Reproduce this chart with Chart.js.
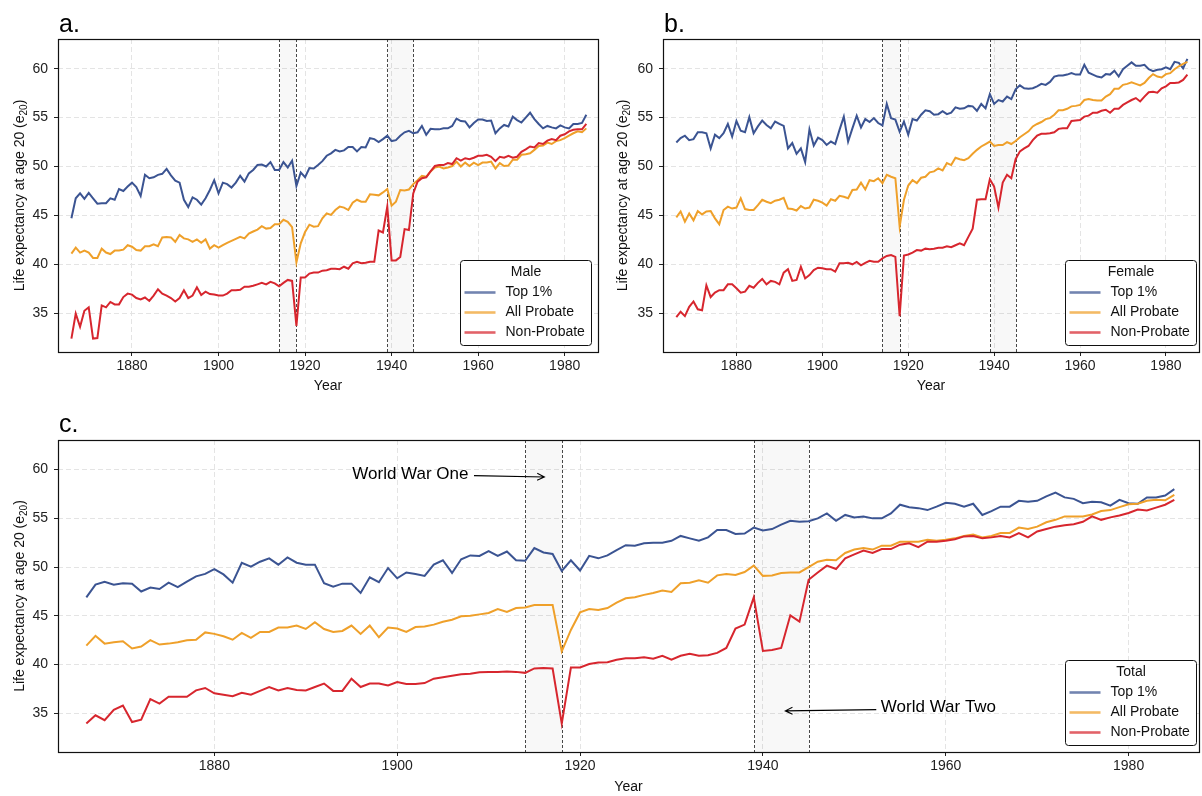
<!DOCTYPE html>
<html>
<head>
<meta charset="utf-8">
<script src="https://cdn.jsdelivr.net/npm/chart.js@4.4.1/dist/chart.umd.min.js"></script>
<style>
  html, body { margin: 0; padding: 0; background: #fff; width: 1202px; height: 796px; overflow: hidden; }
  .panel { position: absolute; }
</style>
</head>
<body>
<div class="panel" style="left:0;top:0;width:600px;height:400px"><canvas id="male" width="600" height="400"></canvas></div>
<div class="panel" style="left:600px;top:0;width:602px;height:400px"><canvas id="female" width="602" height="400"></canvas></div>
<div class="panel" style="left:0;top:400px;width:1202px;height:396px"><canvas id="total" width="1202" height="396"></canvas></div>
<script>
// years 1866..1985
const years = [];
for (let y = 1866; y <= 1985; y++) years.push(y);

const xTicks = [1880, 1900, 1920, 1940, 1960, 1980];
const yTicks = [35, 40, 45, 50, 55, 60];
const seriesNames = ['Top 1%', 'All Probate', 'Non-Probate'];
const seriesColors = ['#3b5492', '#efa02a', '#d7262e'];
const wars = [[1914, 1918], [1939, 1945]];

// a. Male
const maleTop = [
  44.7, 46.75, 47.25, 46.7, 47.3, 46.75, 46.2, 46.25, 46.25, 46.75,
  46.6, 47.7, 47.5, 47.95, 48.35, 47.9, 47.0, 49.15, 48.8, 48.9,
  49.15, 49.25, 49.75, 49.1, 48.55, 48.35, 46.6, 45.85, 46.85, 46.6,
  46.1, 46.75, 47.6, 48.6, 47.25, 48.35, 48.2, 47.85, 48.35, 49.05,
  48.45, 49.3, 49.65, 50.15, 50.2, 50.0, 50.45, 49.65, 49.65, 50.45,
  49.9, 50.6, 48.0, 49.4, 48.9, 49.85, 49.8, 50.15, 50.55, 51.1,
  51.35, 51.7, 51.55, 51.65, 52.0, 52.0, 51.55, 52.0, 51.95, 52.9,
  52.8, 52.5, 52.8, 53.15, 52.6, 52.7, 53.15, 53.5, 53.65, 53.4,
  53.5, 54.15, 53.25, 53.85, 53.8, 53.8, 53.9, 53.9, 54.15, 54.9,
  54.65, 54.6, 54.0, 54.45, 54.8, 54.8, 54.65, 54.7, 53.4, 53.9,
  54.25, 54.1, 55.1, 54.75, 54.5, 55.0, 55.5, 54.85, 54.35, 53.9,
  54.15, 54.0, 53.9, 54.2, 54.0, 53.9, 54.35, 54.35, 54.45, 55.3
];
const maleAll = [
  41.1, 41.7, 41.2, 41.4, 41.2, 40.65, 40.65, 41.6, 41.2, 41.05,
  41.4, 41.4, 41.5, 41.95, 41.8, 41.45, 41.4, 41.85, 41.85, 42.05,
  41.85, 42.75, 42.8, 42.75, 42.3, 43.0, 42.65, 42.55, 42.3, 42.55,
  42.2, 42.55, 41.6, 41.95, 41.7, 41.95, 42.2, 42.4, 42.6, 42.8,
  42.65, 43.15, 43.35, 43.55, 43.9, 43.65, 43.7, 44.1, 44.1, 44.55,
  44.35, 43.8, 40.2, 42.15, 43.3, 44.05, 43.85, 43.9, 44.7, 45.2,
  45.05, 45.55, 45.9, 45.8, 45.55, 46.3, 46.6, 46.4, 46.4, 47.15,
  47.1, 47.05, 47.35, 47.7, 46.0, 46.4, 47.6, 47.55, 47.65, 48.2,
  48.6, 49.05, 48.95, 49.5, 49.9, 50.0, 49.8, 49.9, 50.05, 50.5,
  50.0, 50.4, 50.05, 50.4, 50.15, 50.4, 50.4, 50.5, 49.8, 50.35,
  50.05, 50.1, 50.7, 50.7, 51.2, 51.25, 51.35, 51.7, 52.1, 52.15,
  52.45, 52.3, 52.6, 52.7, 52.9, 53.15, 53.4, 53.6, 53.5, 53.9
];
const maleNon = [
  32.4, 34.95, 33.6, 35.25, 35.6, 32.4, 32.45, 35.8, 35.6, 36.15,
  35.9, 35.9, 36.65, 37.0, 36.9, 36.55, 36.4, 36.6, 36.25, 36.8,
  37.45, 37.0, 36.8, 36.55, 36.2, 36.55, 37.35, 36.55, 36.8, 37.65,
  36.85, 37.2, 36.95, 36.9, 36.8, 36.8, 37.0, 37.35, 37.35, 37.4,
  37.7, 37.7, 37.8, 37.95, 38.1, 37.95, 38.2, 38.05, 37.75, 38.1,
  38.4, 38.3, 33.7, 38.65, 38.65, 39.05, 39.15, 39.15, 39.35, 39.4,
  39.55, 39.55, 39.5, 39.75, 39.55, 40.1, 40.25, 40.1, 40.15, 40.25,
  40.25, 43.45, 43.25, 45.9, 40.4, 40.4, 40.75, 43.6, 43.5, 47.25,
  48.45, 48.8, 48.9, 49.5, 50.05, 50.15, 50.15, 50.35, 50.25, 50.85,
  50.6, 50.85, 50.75, 50.9, 51.1, 51.1, 51.2, 51.0, 50.55, 51.0,
  50.9, 51.1, 50.9, 51.0, 51.5, 51.75, 52.05, 51.95, 52.4, 52.3,
  52.65, 52.8, 52.7, 53.15, 53.3, 53.6, 53.75, 53.8, 53.8, 54.35
];

// b. Female
const femaleTop = [
  52.45, 52.9, 53.15, 52.7, 52.8, 53.5, 53.5, 53.4, 51.85, 53.25,
  52.9, 53.4, 54.35, 53.05, 54.65, 53.65, 53.5, 55.05, 53.4, 54.1,
  54.7, 54.25, 53.9, 54.6, 54.35, 54.15, 51.85, 52.4, 51.3, 51.85,
  50.45, 53.8, 52.15, 52.95, 52.7, 52.2, 52.55, 52.3, 53.75, 55.1,
  52.55, 53.9, 55.2, 54.0, 54.85, 54.55, 54.95, 54.45, 54.2, 56.4,
  54.95, 54.8, 53.55, 54.6, 53.25, 54.85, 54.7, 55.3, 55.75, 55.65,
  55.3, 55.35, 55.65, 55.35, 55.5, 56.05, 55.9, 55.95, 56.2, 56.15,
  55.7, 56.4, 55.95, 57.4, 56.4, 56.8, 56.65, 57.15, 56.9, 57.9,
  58.3, 58.0, 57.95, 58.0, 58.2, 58.45, 58.35, 58.65, 59.2, 59.3,
  59.3, 59.4, 59.55, 59.4, 59.4, 60.4, 59.6, 59.4, 59.2, 59.1,
  59.45, 59.4, 59.8, 59.2, 59.95, 60.3, 60.65, 60.3, 60.3, 60.4,
  59.95, 59.75, 59.9, 59.95, 60.15, 59.95, 60.7, 60.6, 60.05, 61.0
];
const femaleAll = [
  44.8, 45.4, 44.35, 45.2, 44.5, 45.45, 45.1, 45.4, 45.45, 44.7,
  44.1, 45.55, 45.9, 45.7, 45.8, 46.75, 45.65, 45.55, 45.55, 46.05,
  46.6, 46.4, 46.25, 46.5, 46.6, 46.8, 45.7, 45.65, 45.5, 45.95,
  45.7, 45.8, 46.6, 46.5, 46.3, 46.0, 46.65, 46.5, 47.0, 46.9,
  46.75, 47.6, 47.65, 48.35, 47.65, 48.6, 48.5, 48.8, 48.3, 49.15,
  48.95, 48.8, 43.85, 46.6, 48.05, 48.6, 48.3, 48.85, 48.95, 49.4,
  49.5, 49.8, 49.6, 50.35, 50.15, 50.9, 50.75, 50.65, 50.85, 51.3,
  51.7, 52.05, 52.3, 52.55, 52.1, 52.2, 52.2, 52.5, 52.3, 52.6,
  53.0, 53.3, 53.6, 54.1, 54.35, 54.55, 54.85, 54.95, 55.3, 55.75,
  55.75, 55.9, 56.15, 56.2, 56.3, 56.8, 56.9, 56.8, 56.75, 56.75,
  57.15, 57.4, 57.95, 57.95, 58.35, 58.45, 58.6, 58.45, 58.3, 58.55,
  59.05, 59.45, 59.2, 59.1, 59.45, 59.55, 59.95, 60.25, 60.5, 60.7
];
const femaleNon = [
  34.6, 35.15, 34.7, 35.65, 36.2, 35.4, 35.3, 37.85, 36.65, 37.1,
  37.35, 37.35, 37.95, 37.95, 37.55, 37.1, 37.2, 37.8, 37.6, 38.1,
  38.5, 37.95, 38.3, 38.2, 37.95, 39.15, 39.5, 38.3, 38.4, 39.75,
  38.55, 38.9, 39.4, 39.65, 39.6, 39.5, 39.5, 39.25, 40.1, 40.1,
  40.15, 40.0, 40.25, 39.9, 40.15, 40.35, 40.25, 40.25, 40.6, 40.85,
  40.95, 40.75, 34.7, 40.9, 41.0, 41.2, 41.45, 41.4, 41.6, 41.55,
  41.6, 41.7, 41.7, 41.85, 41.75, 41.95, 42.15, 41.95, 42.8, 43.65,
  46.6, 46.65, 46.65, 48.7, 47.95, 45.8, 48.35, 49.15, 48.8, 50.75,
  51.55, 51.85, 52.1, 52.7, 53.15, 53.35, 53.35, 53.4, 53.5, 53.85,
  53.9, 53.9, 54.65, 54.7, 54.75, 55.1, 55.2, 55.5, 55.5, 55.7,
  55.8, 55.5, 55.9, 55.9, 56.3, 56.55, 56.8, 57.0, 56.65, 57.15,
  57.6, 57.65, 57.55, 58.0, 58.2, 58.55, 58.55, 58.6, 58.85, 59.4
];

// c. Total
const totalTop = [
  46.9, 48.2, 48.5, 48.2, 48.35, 48.3, 47.5, 47.9, 47.75, 48.4,
  47.95, 48.5, 49.05, 49.3, 49.8, 49.25, 48.4, 50.45, 50.05, 50.55,
  50.9, 50.25, 51.0, 50.45, 50.25, 50.25, 48.35, 48.0, 48.3, 48.3,
  47.35, 48.95, 48.45, 49.9, 48.85, 49.45, 49.3, 49.1, 50.25, 50.7,
  49.4, 50.8, 51.2, 51.15, 51.65, 51.15, 51.6, 50.7, 50.65, 51.95,
  51.5, 51.35, 49.6, 50.7, 49.65, 51.15, 50.9, 51.2, 51.75, 52.25,
  52.2, 52.45, 52.5, 52.5, 52.7, 53.2, 52.95, 52.7, 53.05, 53.8,
  53.8, 53.4, 53.45, 54.05, 53.75, 53.9, 54.35, 54.75, 54.65, 54.7,
  55.0, 55.5, 54.75, 55.35, 55.1, 55.2, 55.0, 55.0, 55.5, 56.4,
  56.15, 56.05, 55.85, 56.2, 56.6, 56.5, 56.2, 56.5, 55.35, 55.75,
  56.2, 56.2, 56.8, 56.7, 56.8, 57.25, 57.65, 57.15, 57.0, 56.55,
  56.7, 56.65, 56.3, 56.9, 56.55, 56.5, 57.15, 57.15, 57.35, 58.0
];
const totalAll = [
  41.95, 42.95, 42.15, 42.3, 42.4, 41.65, 41.85, 42.5, 42.05, 42.15,
  42.3, 42.5, 42.55, 43.3, 43.15, 42.9, 42.55, 43.25, 42.75, 43.35,
  43.35, 43.8, 43.8, 44.0, 43.65, 44.35, 43.65, 43.35, 43.45, 44.0,
  43.15, 44.0, 42.8, 43.8, 43.7, 43.35, 43.85, 43.9, 44.1, 44.4,
  44.6, 44.95, 45.0, 45.15, 45.3, 45.7, 45.4, 45.8, 45.85, 46.1,
  46.1, 46.1, 41.35, 43.55, 45.35, 45.7, 45.6, 45.8, 46.35, 46.8,
  46.9, 47.15, 47.35, 47.6, 47.45, 48.35, 48.4, 48.65, 48.4, 49.15,
  49.3, 49.2, 49.5, 50.15, 49.1, 49.15, 49.4, 49.45, 49.45, 50.0,
  50.55, 50.75, 50.7, 51.45, 51.8, 51.95, 51.8, 52.2, 52.2, 52.6,
  52.6, 52.6, 52.8, 52.7, 52.8, 52.95, 53.2, 53.35, 53.05, 53.2,
  53.5, 53.5, 54.05, 53.9, 54.15, 54.6, 54.85, 55.2, 55.2, 55.2,
  55.4, 55.75, 55.85, 56.15, 56.45, 56.5, 56.8, 56.9, 56.85, 57.4
];
const totalNon = [
  33.95, 34.8, 34.3, 35.35, 35.8, 34.1, 34.35, 36.45, 36.0, 36.7,
  36.7, 36.7, 37.35, 37.6, 37.05, 36.9, 36.75, 37.1, 36.9, 37.3,
  37.7, 37.35, 37.6, 37.4, 37.35, 37.7, 38.05, 37.3, 37.3, 38.55,
  37.7, 38.05, 38.05, 37.85, 38.2, 38.0, 38.0, 38.1, 38.55, 38.7,
  38.85, 39.0, 39.05, 39.2, 39.25, 39.25, 39.3, 39.25, 39.15, 39.6,
  39.65, 39.6, 33.95, 39.7, 39.7, 40.05, 40.2, 40.25, 40.5, 40.65,
  40.65, 40.75, 40.6, 40.9, 40.5, 40.9, 41.1, 40.9, 40.95, 41.2,
  41.7, 43.7, 44.1, 46.9, 41.4, 41.5, 41.7, 45.05, 44.4, 48.7,
  49.45, 50.15, 49.8, 50.9, 51.3, 51.7, 51.45, 51.85, 51.85, 52.3,
  52.45, 52.05, 52.6, 52.6, 52.7, 52.85, 53.15, 53.2, 52.95, 53.05,
  53.2, 53.05, 53.5, 53.05, 53.65, 53.9, 54.15, 54.3, 54.4, 54.65,
  55.2, 54.85, 55.1, 55.3, 55.55, 55.9, 55.8, 56.1, 56.4, 56.9
];

const FONT = '"Liberation Sans", Arial, Helvetica, sans-serif';
Chart.defaults.font.family = FONT;
Chart.defaults.color = '#111';

function drawArrow(ctx, x1, y1, x2, y2) {
  const ang = Math.atan2(y2 - y1, x2 - x1);
  const len = 8, spread = 0.45;
  ctx.beginPath();
  ctx.moveTo(x1, y1);
  ctx.lineTo(x2, y2);
  ctx.moveTo(x2 - len * Math.cos(ang - spread), y2 - len * Math.sin(ang - spread));
  ctx.lineTo(x2, y2);
  ctx.lineTo(x2 - len * Math.cos(ang + spread), y2 - len * Math.sin(ang + spread));
  ctx.stroke();
}

// y title with a real subscript: "Life expectancy at age 20 (e" + "20" + ")"
function drawYTitle(ctx, cx, cy) {
  const main = 'Life expectancy at age 20 (e', sub = '20', end = ')';
  ctx.save();
  ctx.translate(cx, cy);
  ctx.rotate(-Math.PI / 2);
  ctx.fillStyle = '#111';
  ctx.textBaseline = 'alphabetic';
  ctx.textAlign = 'left';
  ctx.font = '14px ' + FONT;
  const w1 = ctx.measureText(main).width, w3 = ctx.measureText(end).width;
  ctx.font = '10px ' + FONT;
  const w2 = ctx.measureText(sub).width;
  let px = -(w1 + w2 + w3) / 2;
  const base = 5;
  ctx.font = '14px ' + FONT;
  ctx.fillText(main, px, base);
  px += w1;
  ctx.font = '10px ' + FONT;
  ctx.fillText(sub, px, base + 3);
  px += w2;
  ctx.font = '14px ' + FONT;
  ctx.fillText(end, px, base);
  ctx.restore();
}

function decor(cfg) {
  return {
    id: 'decor',
    beforeDatasetsDraw(chart) {
      const { ctx, chartArea: a, scales: { x } } = chart;
      ctx.save();
      wars.forEach(([s, e]) => {
        const x1 = Math.round(x.getPixelForValue(s)) + 0.5;
        const x2 = Math.round(x.getPixelForValue(e)) + 0.5;
        ctx.fillStyle = 'rgba(0,0,0,0.028)';
        ctx.fillRect(x1, a.top, x2 - x1, a.bottom - a.top);
        ctx.strokeStyle = '#333';
        ctx.lineWidth = 0.9;
        ctx.setLineDash([3, 2]);
        [x1, x2].forEach(px => {
          ctx.beginPath();
          ctx.moveTo(px, a.top);
          ctx.lineTo(px, a.bottom);
          ctx.stroke();
        });
      });
      ctx.restore();
    },
    afterDraw(chart) {
      const { ctx, chartArea: a, scales: { x, y } } = chart;
      ctx.save();
      // frame
      ctx.setLineDash([]);
      ctx.strokeStyle = '#111';
      ctx.lineWidth = 1.2;
      ctx.strokeRect(Math.round(a.left) + 0.5, Math.round(a.top) + 0.5,
        Math.round(a.right - a.left), Math.round(a.bottom - a.top));

      drawYTitle(ctx, cfg.yTitleX, (a.top + a.bottom) / 2);

      // panel letter
      ctx.fillStyle = '#000';
      ctx.font = '25px ' + FONT;
      ctx.textAlign = 'left';
      ctx.textBaseline = 'alphabetic';
      ctx.fillText(cfg.letter, a.left + 1, 31.5);

      // annotations
      (cfg.notes || []).forEach(n => {
        ctx.font = '17px ' + FONT;
        ctx.fillStyle = '#000';
        ctx.textBaseline = 'middle';
        ctx.textAlign = n.align;
        ctx.fillText(n.text, x.getPixelForValue(n.tx), y.getPixelForValue(n.ty));
        ctx.strokeStyle = '#000';
        ctx.lineWidth = 1.1;
        drawArrow(ctx, x.getPixelForValue(n.from[0]), y.getPixelForValue(n.from[1]),
          x.getPixelForValue(n.to[0]), y.getPixelForValue(n.to[1]));
      });

      // legend
      const bw = 131, bh = 85;
      const bx = Math.round(a.right - cfg.legendRight - bw) + 0.5;
      const by = Math.round(a.bottom - 7.5 - bh) + 0.5;
      ctx.beginPath();
      ctx.roundRect(bx, by, bw, bh, 3);
      ctx.fillStyle = '#fff';
      ctx.fill();
      ctx.strokeStyle = '#111';
      ctx.lineWidth = 1;
      ctx.stroke();
      ctx.font = '14px ' + FONT;
      ctx.fillStyle = '#111';
      ctx.textAlign = 'center';
      ctx.textBaseline = 'middle';
      ctx.fillText(cfg.legendTitle, bx + bw / 2, by + 11.5);
      chart.data.datasets.forEach((ds, i) => {
        const ly = by + 32 + i * 20;
        ctx.globalAlpha = 0.72;
        ctx.strokeStyle = ds.borderColor;
        ctx.lineWidth = 2.6;
        ctx.beginPath();
        ctx.moveTo(bx + 4, ly);
        ctx.lineTo(bx + 35, ly);
        ctx.stroke();
        ctx.globalAlpha = 1;
        ctx.textAlign = 'left';
        ctx.fillStyle = '#111';
        ctx.fillText(ds.label, bx + 45, ly);
      });
      ctx.restore();
    }
  };
}

function makeChart(id, series, cfg) {
  const datasets = series.map((vals, i) => ({
    label: seriesNames[i],
    data: years.map((yr, k) => ({ x: yr, y: vals[k] })),
    borderColor: seriesColors[i],
    backgroundColor: seriesColors[i],
    borderWidth: 2,
    pointRadius: 0,
    tension: 0,
    fill: false,
    order: 3 - i
  }));
  return new Chart(document.getElementById(id), {
    type: 'line',
    data: { datasets },
    options: {
      responsive: false,
      animation: false,
      events: [],
      layout: { padding: { top: cfg.padTop, right: cfg.padRight, left: 0, bottom: 0 } },
      plugins: { legend: { display: false }, tooltip: { enabled: false } },
      scales: {
        x: {
          type: 'linear',
          min: 1862.9,
          max: 1987.7,
          afterBuildTicks: s => { s.ticks = xTicks.map(v => ({ value: v })); },
          afterFit: s => { s.height = cfg.xHeight; },
          ticks: { font: { size: 14 }, color: '#222', padding: 2, maxRotation: 0, callback: v => String(v) },
          grid: { color: '#e4e4e4', lineWidth: 1, tickLength: 4, tickColor: '#222', tickWidth: 1, tickBorderDash: [] },
          border: { display: false, dash: [5, 3] },
          title: { display: true, text: 'Year', font: { size: 14 }, color: '#111', padding: { top: 0, bottom: cfg.xTitlePad } }
        },
        y: {
          min: 31.03,
          max: 63.04,
          afterBuildTicks: s => { s.ticks = yTicks.map(v => ({ value: v })); },
          afterFit: s => { s.width = cfg.yWidth; },
          ticks: { font: { size: 14 }, color: '#222', padding: 6, callback: v => String(v) },
          grid: { color: '#e4e4e4', lineWidth: 1, tickLength: 4, tickColor: '#222', tickWidth: 1, tickBorderDash: [] },
          border: { display: false, dash: [5, 3] },
          title: { display: false }
        }
      }
    },
    plugins: [decor(cfg)]
  });
}

makeChart('male', [maleTop, maleAll, maleNon], {
  letter: 'a.', legendTitle: 'Male', legendRight: 7,
  padTop: 39, padRight: 2, yWidth: 58, xHeight: 48, xTitlePad: 5, yTitleX: 19
});
makeChart('female', [femaleTop, femaleAll, femaleNon], {
  letter: 'b.', legendTitle: 'Female', legendRight: 3.5,
  padTop: 39, padRight: 3, yWidth: 63, xHeight: 48, xTitlePad: 5, yTitleX: 22
});
makeChart('total', [totalTop, totalAll, totalNon], {
  letter: 'c.', legendTitle: 'Total', legendRight: 3.5,
  padTop: 40, padRight: 3, yWidth: 58, xHeight: 44, xTitlePad: 0.6, yTitleX: 19,
  notes: [
    { text: 'World War One', align: 'right', tx: 1907.8, ty: 59.55, from: [1908.4, 59.39], to: [1916.1, 59.25] },
    { text: 'World War Two', align: 'left', tx: 1952.9, ty: 35.62, from: [1952.4, 35.38], to: [1942.45, 35.25] }
  ]
});
</script>
</body>
</html>
